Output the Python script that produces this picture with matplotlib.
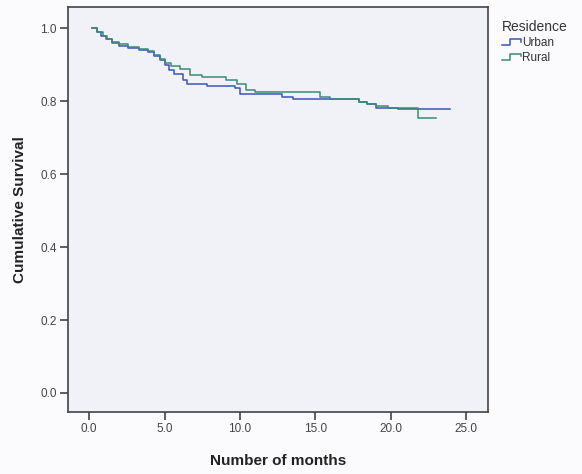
import matplotlib
matplotlib.use("Agg")
import matplotlib.pyplot as plt
from matplotlib.lines import Line2D
from matplotlib.legend_handler import HandlerBase

plt.rcParams['font.family'] = ['Liberation Sans', 'DejaVu Sans']

# Kaplan-Meier step data (time in months, cumulative survival)
urban_t = [0.2, 0.5, 0.8, 1.1, 1.5, 2.0, 2.6, 3.3, 3.9, 4.3, 4.7, 5.0, 5.3, 5.6,
           6.2, 6.5, 7.8, 9.7, 10.0, 12.8, 13.5, 17.9, 18.4, 19.0, 20.5, 23.9]
urban_s = [1.0, 0.99, 0.98, 0.97, 0.96, 0.952, 0.945, 0.94, 0.935, 0.925, 0.912,
           0.90, 0.885, 0.874, 0.858, 0.848, 0.843, 0.835, 0.821, 0.812, 0.806,
           0.797, 0.792, 0.782, 0.778, 0.778]

rural_t = [0.2, 0.5, 0.9, 1.2, 1.5, 2.0, 2.6, 3.3, 3.9, 4.3, 4.7, 5.0, 5.4, 6.0,
           6.7, 7.5, 9.1, 9.8, 10.4, 11.0, 15.3, 16.0, 17.9, 18.4, 19.0, 19.8,
           21.8, 23.0]
rural_s = [1.0, 0.99, 0.98, 0.97, 0.962, 0.957, 0.948, 0.942, 0.937, 0.927, 0.915,
           0.905, 0.897, 0.889, 0.871, 0.865, 0.858, 0.848, 0.830, 0.825, 0.812,
           0.806, 0.797, 0.792, 0.788, 0.782, 0.755, 0.755]

groups = ["Urban", "Rural"]
colors = ["#3b55b8", "#3a8a72"]

x_ticks = [0, 5, 10, 15, 20, 25]
y_ticks = [0.0, 0.2, 0.4, 0.6, 0.8, 1.0]


class StepHandler(HandlerBase):
    def create_artists(self, legend, orig_handle, xdescent, ydescent,
                       width, height, fontsize, trans):
        xs = [0, width * 0.45, width * 0.45, width, width]
        ys = [height * 0.15, height * 0.15, height * 0.85, height * 0.85, height * 0.55]
        line = Line2D([x - xdescent for x in xs], [y - ydescent for y in ys],
                      color=orig_handle.get_color(), lw=1.1)
        line.set_transform(trans)
        return [line]


fig = plt.figure(figsize=(5.82, 4.74), dpi=100, facecolor="#fbfbfd")
ax = fig.add_axes([0.117, 0.131, 0.721, 0.854])
ax.set_facecolor("#f1f1f8")

handles = []
for t, s, c, g in zip([urban_t, rural_t], [urban_s, rural_s], colors, groups):
    h, = ax.step(t, s, where="post", color=c, lw=1.1, label=g)
    handles.append(h)

ax.set_xlim(-1.39, 26.42)
ax.set_ylim(-0.052, 1.058)
ax.set_xticks(x_ticks)
ax.set_xticklabels([f"{v:.1f}" for v in x_ticks])
ax.set_yticks(y_ticks)
ax.set_yticklabels([f"{v:.1f}" for v in y_ticks])
ax.tick_params(direction="out", length=6, width=1.2, colors="#444444",
               labelsize=8.5, labelcolor="#444444", pad=2)
for sp in ax.spines.values():
    sp.set_color("#444444")
    sp.set_linewidth(1.2)

ax.set_xlabel("Number of months", fontsize=11, fontweight="bold",
              color="#222222", labelpad=14)
ax.set_ylabel("Cumulative Survival", fontsize=11, fontweight="bold",
              color="#222222", labelpad=10)

leg = fig.legend(handles=handles, labels=groups, title="Residence",
                 loc="upper left", bbox_to_anchor=(0.848, 0.975),
                 frameon=False, fontsize=8.5, title_fontsize=10,
                 handler_map={Line2D: StepHandler()},
                 handlelength=1.6, handletextpad=0.1, labelspacing=0.25,
                 borderpad=0.2)
leg._legend_box.align = "left"
for txt in leg.get_texts():
    txt.set_color("#333333")
leg.get_title().set_color("#333333")

fig.savefig("out.png", dpi=100, facecolor=fig.get_facecolor())
